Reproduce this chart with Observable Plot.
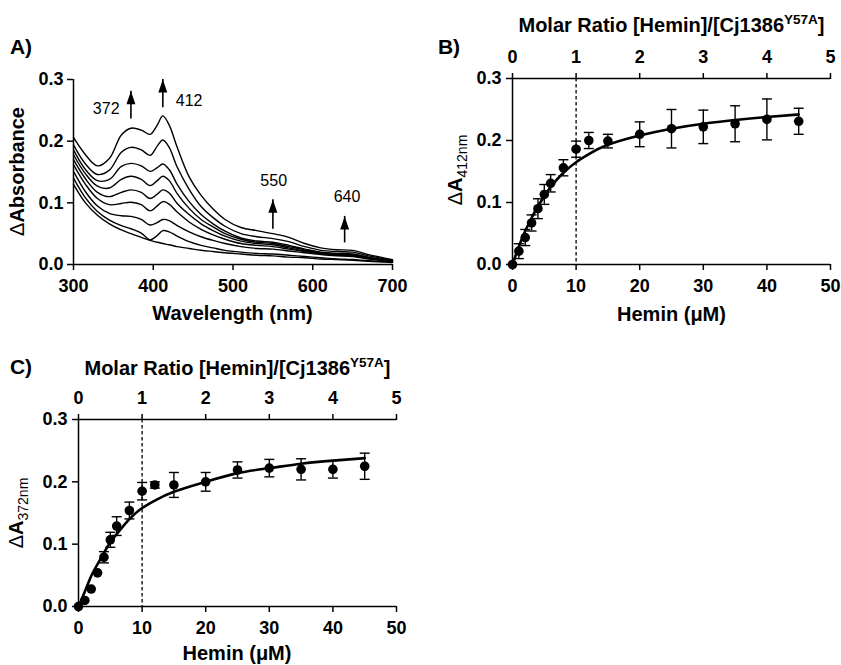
<!DOCTYPE html>
<html>
<head>
<meta charset="utf-8">
<script src="https://cdn.jsdelivr.net/npm/d3@7"></script>
<script src="https://cdn.jsdelivr.net/npm/@observablehq/plot@0.6"></script>
<style>
  html, body { margin: 0; padding: 0; background: #fff; }
  #root { position: relative; width: 841px; height: 665px; background: #fff; overflow: hidden; }
  .panel { position: absolute; }
</style>
</head>
<body>
<div id="root">
  <div class="panel" id="pa" style="left:0px;top:0px;width:420px;height:330px"></div>
  <div class="panel" id="pb" style="left:420px;top:0px;width:421px;height:330px"></div>
  <div class="panel" id="pc" style="left:0px;top:335px;width:420px;height:330px"></div>
</div>
<script>
// ---------- Panel A: difference spectra ----------
const wavelengths = [300,315,330,345,360,372,385,396,405,412,420,430,445,460,475,490,510,530,550,570,590,610,630,650,670,700];
const spec1 = [.206,.178,.160,.172,.210,.221,.218,.211,.226,.241,.226,.190,.142,.112,.090,.073,.060,.055,.050,.044,.034,.027,.024,.023,.016,.008];
const spec2 = [.194,.163,.146,.153,.182,.190,.186,.177,.192,.202,.190,.158,.122,.094,.076,.062,.050,.045,.042,.037,.029,.023,.021,.020,.014,.007];
const spec3 = [.186,.154,.136,.138,.159,.164,.160,.151,.157,.163,.154,.130,.102,.081,.066,.054,.043,.038,.036,.031,.025,.020,.018,.017,.012,.006];
const spec4 = [.178,.147,.127,.124,.138,.143,.138,.128,.136,.143,.136,.115,.091,.073,.061,.050,.041,.036,.034,.029,.024,.019,.017,.016,.011,.006];
const spec5 = [.170,.139,.117,.110,.117,.121,.117,.107,.114,.121,.116,.099,.081,.066,.055,.046,.038,.034,.032,.027,.022,.018,.016,.015,.010,.005];
const spec6 = [.162,.130,.107,.097,.099,.101,.097,.087,.095,.102,.098,.085,.069,.057,.048,.041,.034,.031,.029,.025,.021,.017,.015,.014,.010,.005];
const spec7 = [.151,.118,.095,.083,.079,.078,.073,.064,.068,.073,.071,.063,.053,.045,.039,.034,.029,.026,.025,.022,.019,.016,.014,.013,.009,.005];
const spec8 = [.140,.108,.086,.072,.063,.058,.051,.040,.047,.055,.053,.046,.037,.031,.027,.023,.020,.018,.017,.015,.013,.011,.009,.008,.006,.004];
const spec9 = [.130,.100,.080,.066,.056,.050,.044,.039,.036,.034,.032,.029,.026,.023,.021,.019,.017,.015,.014,.012,.011,.009,.008,.007,.005,.003];
const wlTicks = [300,400,500,600,700];
const absTicks = [0,0.1,0.2,0.3];
// arrows: wavelength, shaft base, tip
const arrowWl   = [372, 412, 550, 640];
const arrowBase = [0.236, 0.254, 0.057, 0.035];
const arrowTip  = [0.281, 0.300, 0.105, 0.078];
const peakLabelText = ["372","412","550","640"];
const peakLabelWl   = [341, 445, 551, 643];
const peakLabelAbs  = [0.252, 0.265, 0.135, 0.109];

// ---------- Panels B & C: titrations ----------
const hemin = [0,1,2,3,4,5,6,8,10,12,15,20,25,30,35,40,45];
const a412     = [0,.0215,.0435,.067,.090,.113,.131,.156,.186,.200,.199,.210,.219,.222,.227,.234,.231];
const a412err  = [0,.012,.013,.013,.016,.016,.014,.013,.013,.013,.011,.020,.031,.027,.029,.033,.021];
const fit412   = [0,.029,.054,.075,.094,.110,.125,.148,.165,.178,.193,.208,.219,.227,.233,.238,.242];
const a372     = [0,.0097,.028,.054,.079,.107,.129,.154,.185,.195,.195,.200,.219,.222,.220,.220,.225];
const a372err  = [0,0,0,0,.009,.012,.015,.0135,.014,.005,.020,.015,.013,.014,.017,.014,.021];
const fit372   = [0,.024,.049,.068,.086,.103,.116,.140,.158,.170,.184,.200,.214,.222,.229,.234,.238];
const heminTicks = [0,10,20,30,40,50];
const ratioTicks = [0,1,2,3,4,5];
const proteinConc = 10; // µM, hemin/protein = 1 at 10 µM
const equivalence = [10];

// ---------- helpers ----------
const FONT = '"Liberation Sans", Arial, Helvetica, sans-serif';
const baseStyle = {fontFamily: FONT, fontSize: "18px", fontWeight: "bold", color: "black", background: "white", overflow: "visible"};
const headSymbol = {draw(ctx) { ctx.moveTo(0, 0); ctx.lineTo(-4.5, 13); ctx.lineTo(4.5, 13); ctx.closePath(); }};
const capSymbol = {draw(ctx) { ctx.moveTo(-5, 0); ctx.lineTo(5, 0); }};

const specRows = [];
[spec1,spec2,spec3,spec4,spec5,spec6,spec7,spec8,spec9].forEach((s, i) =>
  s.forEach((a, j) => specRows.push({series: i, wl: wavelengths[j], a})));
const arrows = arrowWl.map((x, i) => ({x, y1: arrowBase[i], y2: arrowTip[i]}));
const peakLabels = peakLabelText.map((t, i) => ({t, x: peakLabelWl[i], y: peakLabelAbs[i]}));

function rows(y, e) { return hemin.map((x, i) => ({x, y: y[i], e: e ? e[i] : 0})); }

function addText(svg, x, y, parts, opts = {}) {
  const t = d3.select(svg).append("text")
    .attr("text-anchor", "middle")
    .attr("transform", `translate(${x},${y})` + (opts.rotate ? ` rotate(${opts.rotate})` : ""))
    .attr("dy", "0.35em")
    .style("font-family", FONT)
    .style("font-size", (opts.size || 20) + "px")
    .style("font-weight", "bold")
    .attr("fill", "black");
  for (const p of parts) {
    const s = t.append("tspan").text(p.text);
    if (p.dy) s.attr("dy", p.dy);
    if (p.size) s.style("font-size", p.size + "px");
    if (p.weight) s.style("font-weight", p.weight);
  }
  return t;
}

// ---------- Panel A ----------
const svgA = Plot.plot({
  width: 420, height: 330, marginLeft: 73, marginRight: 28, marginTop: 79, marginBottom: 66,
  style: baseStyle,
  x: {domain: [300, 700]},
  y: {domain: [0, 0.3]},
  marks: [
    Plot.ruleX([300], {strokeWidth: 1.5}),
    Plot.ruleY([0], {strokeWidth: 1.5}),
    Plot.axisX({ticks: wlTicks, tickSize: 6, tickPadding: 9, label: null, tickFormat: d3.format("d"), strokeWidth: 1.5}),
    Plot.axisY({ticks: absTicks, tickSize: 6, tickPadding: 4, label: null, tickFormat: d3.format(".1f"), strokeWidth: 1.5}),
    Plot.line(specRows, {x: "wl", y: "a", z: "series", curve: "catmull-rom", strokeWidth: 1.4, stroke: "black"}),
    Plot.ruleX(arrows, {x: "x", y1: "y1", y2: "y2", strokeWidth: 1.6}),
    Plot.dot(arrows, {x: "x", y: "y2", symbol: headSymbol, fill: "black", stroke: "none", r: 5}),
    Plot.text(peakLabels, {x: "x", y: "y", text: "t", fontSize: 16, fontWeight: "normal", fill: "black"})
  ]
});
document.getElementById("pa").appendChild(svgA);
addText(svgA, 17, 171.5, [{text: "Δ", weight: "normal"}, {text: "Absorbance"}], {rotate: -90});
addText(svgA, 232.5, 313, [{text: "Wavelength (nm)"}]);
addText(svgA, 21, 47, [{text: "A)"}], {size: 21});

// ---------- titration panel builder ----------
function titration(data, err, fit, w, ml, mr, mt, mb) {
  const pts = rows(data, err);
  const fitRows = rows(fit);
  return Plot.plot({
    width: w, height: 330, marginLeft: ml, marginRight: mr, marginTop: mt, marginBottom: mb,
    style: baseStyle,
    x: {domain: [0, 50]},
    y: {domain: [0, 0.3]},
    marks: [
      Plot.ruleX(equivalence, {strokeDasharray: "3.5,2.5", strokeWidth: 1.3}),
      Plot.ruleX([0], {strokeWidth: 1.5}),
      Plot.ruleY([0], {strokeWidth: 1.5}),
      Plot.ruleY([0.3], {strokeWidth: 1.5}),
      Plot.axisX({ticks: heminTicks, tickSize: 6, tickPadding: 9, label: null, strokeWidth: 1.5}),
      Plot.axisX({anchor: "top", ticks: ratioTicks.map(r => r * proteinConc), tickFormat: d => d3.format("d")(d / proteinConc),
                  tickSize: 6, tickPadding: 10, label: null, strokeWidth: 1.5}),
      Plot.axisY({ticks: absTicks, tickSize: 6, tickPadding: 5, label: null, tickFormat: d3.format(".1f"), strokeWidth: 1.5}),
      Plot.ruleX(pts.filter(d => d.e > 0), {x: "x", y1: d => d.y - d.e, y2: d => d.y + d.e, strokeWidth: 1.4}),
      Plot.dot(pts.filter(d => d.e > 0), {x: "x", y: d => d.y + d.e, symbol: capSymbol, stroke: "black", fill: "none", strokeWidth: 1.4, r: 5}),
      Plot.dot(pts.filter(d => d.e > 0), {x: "x", y: d => d.y - d.e, symbol: capSymbol, stroke: "black", fill: "none", strokeWidth: 1.4, r: 5}),
      Plot.line(fitRows, {x: "x", y: "y", curve: "natural", strokeWidth: 2.6, stroke: "black"}),
      Plot.dot(pts, {x: "x", y: "y", r: 4.8, fill: "black", stroke: "none"})
    ]
  });
}

// ---------- Panel B ----------
const svgB = titration(a412, a412err, fit412, 421, 92, 11, 78, 66);
document.getElementById("pb").appendChild(svgB);
addText(svgB, 35, 170, [{text: "Δ", weight: "normal"}, {text: "A"}, {text: "412nm", size: 14, weight: "normal", dy: 5}], {rotate: -90});
addText(svgB, 251.5, 314, [{text: "Hemin (μM)"}]);
addText(svgB, 251.5, 25, [{text: "Molar Ratio [Hemin]/[Cj1386"}, {text: "Y57A", size: 13.5, dy: -8}, {text: "]", dy: 8}]);
addText(svgB, 29, 47, [{text: "B)"}], {size: 21});

// ---------- Panel C ----------
const svgC = titration(a372, a372err, fit372, 420, 78, 24, 84, 59);
document.getElementById("pc").appendChild(svgC);
addText(svgC, 16, 178, [{text: "Δ", weight: "normal"}, {text: "A"}, {text: "372nm", size: 14, weight: "normal", dy: 5}], {rotate: -90});
addText(svgC, 237, 318, [{text: "Hemin (μM)"}]);
addText(svgC, 237.5, 33, [{text: "Molar Ratio [Hemin]/[Cj1386"}, {text: "Y57A", size: 13.5, dy: -8}, {text: "]", dy: 8}]);
addText(svgC, 21, 32, [{text: "C)"}], {size: 21});
</script>
</body>
</html>
